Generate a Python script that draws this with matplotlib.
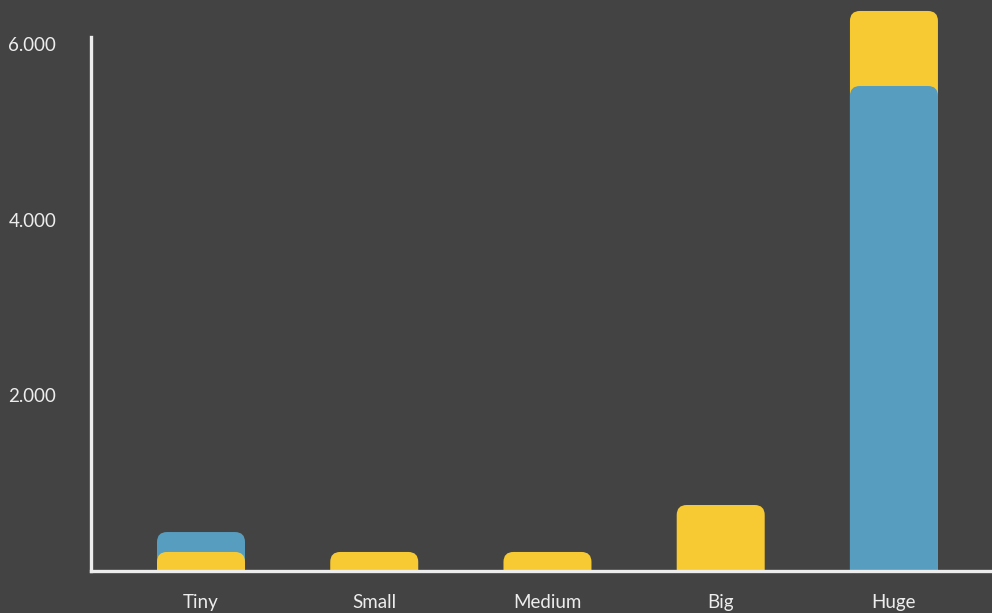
import matplotlib
matplotlib.use("Agg")
import matplotlib.pyplot as plt
from matplotlib.patches import FancyBboxPatch

categories = ["Tiny", "Small", "Medium", "Big", "Huge"]
yellow_vals = [217, 217, 217, 752, 855]
blue_vals = [227, 0, 0, 0, 5527]
# which series sits at the bottom of each stack
bottom_series = ["yellow", "yellow", "yellow", "yellow", "blue"]
yticks = [2000, 4000, 6000]
ytick_labels = ["2.000", "4.000", "6.000"]

BG = "#434343"
YELLOW = "#F7CA33"
BLUE = "#579DBF"
FG = "#EDEDED"

plt.rcParams["font.family"] = ["Lato", "DejaVu Sans"]

fig = plt.figure(figsize=(9.92, 6.13), dpi=100, facecolor=BG)
ax = fig.add_axes([91 / 992, 42 / 613, 1 - 91 / 992, 1 - 42 / 613])
ax.set_facecolor(BG)

ax.set_xlim(-0.635, 4.566)
ax.set_ylim(0, 6507)

# pixel scale so the corner radius stays round on screen
bbox = ax.get_window_extent()
x_per_px = (4.566 + 0.635) / bbox.width
y_per_px = 6507 / bbox.height
radius_px = 10
r = radius_px * x_per_px
aspect = y_per_px / x_per_px
width = 0.508


def rounded_bar(x, top, color, z):
    # extend below zero so only the top corners show as rounded
    bottom = -radius_px * y_per_px * 1.5
    patch = FancyBboxPatch((x - width / 2, bottom), width, top - bottom,
                           boxstyle=f"round,pad=0,rounding_size={r}",
                           mutation_aspect=aspect, facecolor=color,
                           edgecolor="none", zorder=z, clip_on=False)
    ax.add_patch(patch)
    return patch


for i, cat in enumerate(categories):
    y, b = yellow_vals[i], blue_vals[i]
    total = y + b
    if bottom_series[i] == "yellow":
        top_color, low_color, low_val = BLUE, YELLOW, y
    else:
        top_color, low_color, low_val = YELLOW, BLUE, b
    if total > low_val:
        rounded_bar(i, total, top_color, 2)
    rounded_bar(i, low_val, low_color, 3)

# cover the part of the bars drawn below the baseline
ax.axhspan(-1000, 0, color=BG, zorder=4, clip_on=False)

for s in ["top", "right"]:
    ax.spines[s].set_visible(False)
for s in ["left", "bottom"]:
    ax.spines[s].set_color(FG)
    ax.spines[s].set_linewidth(2.4)
    ax.spines[s].set_zorder(5)
ax.spines["left"].set_bounds(0, 6085)

ax.set_yticks(yticks)
ax.set_yticklabels(ytick_labels)
ax.tick_params(axis="y", length=0, pad=25, labelsize=13.5, labelcolor=FG)
ax.set_xticks([])

for i, cat in enumerate(categories):
    ax.text(i, -260, cat, ha="center", va="top", fontsize=13.5, color=FG, zorder=6)

fig.savefig("out.png", dpi=100, facecolor=BG)
